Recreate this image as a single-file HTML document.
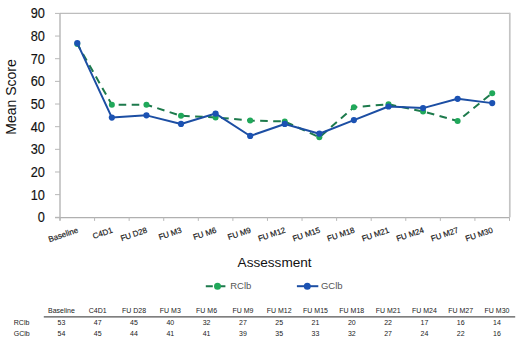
<!DOCTYPE html>
<html><head><meta charset="utf-8"><style>
html,body{margin:0;padding:0;background:#fff;}
svg{display:block;font-family:'Liberation Sans',sans-serif;}
</style></head><body>
<svg width="520" height="343" viewBox="0 0 520 343">
<rect x="0" y="0" width="520" height="343" fill="#fff"/>
<path d="M60.0 13.4H509.9" fill="none" stroke="#bdbdbd" stroke-width="1.2"/>
<path d="M509.8 12.8V217.3" fill="none" stroke="#c4c4c4" stroke-width="1.7"/>
<path d="M60.0 13.4V220.60000000000002M55.0 217.60000000000002H509.5" fill="none" stroke="#b0b0b0" stroke-width="1.3"/>
<line x1="55.0" y1="217.30" x2="60.0" y2="217.30" stroke="#b8b8b8" stroke-width="1"/>
<text transform="translate(44.9,222.20) scale(0.98,1.1)" text-anchor="end" font-size="13" fill="#111" stroke="#111" stroke-width="0.15">0</text>
<line x1="55.0" y1="194.64" x2="60.0" y2="194.64" stroke="#b8b8b8" stroke-width="1"/>
<text transform="translate(44.9,199.54) scale(0.98,1.1)" text-anchor="end" font-size="13" fill="#111" stroke="#111" stroke-width="0.15">10</text>
<line x1="55.0" y1="171.99" x2="60.0" y2="171.99" stroke="#b8b8b8" stroke-width="1"/>
<text transform="translate(44.9,176.89) scale(0.98,1.1)" text-anchor="end" font-size="13" fill="#111" stroke="#111" stroke-width="0.15">20</text>
<line x1="55.0" y1="149.33" x2="60.0" y2="149.33" stroke="#b8b8b8" stroke-width="1"/>
<text transform="translate(44.9,154.23) scale(0.98,1.1)" text-anchor="end" font-size="13" fill="#111" stroke="#111" stroke-width="0.15">30</text>
<line x1="55.0" y1="126.68" x2="60.0" y2="126.68" stroke="#b8b8b8" stroke-width="1"/>
<text transform="translate(44.9,131.58) scale(0.98,1.1)" text-anchor="end" font-size="13" fill="#111" stroke="#111" stroke-width="0.15">40</text>
<line x1="55.0" y1="104.02" x2="60.0" y2="104.02" stroke="#b8b8b8" stroke-width="1"/>
<text transform="translate(44.9,108.92) scale(0.98,1.1)" text-anchor="end" font-size="13" fill="#111" stroke="#111" stroke-width="0.15">50</text>
<line x1="55.0" y1="81.37" x2="60.0" y2="81.37" stroke="#b8b8b8" stroke-width="1"/>
<text transform="translate(44.9,86.27) scale(0.98,1.1)" text-anchor="end" font-size="13" fill="#111" stroke="#111" stroke-width="0.15">60</text>
<line x1="55.0" y1="58.71" x2="60.0" y2="58.71" stroke="#b8b8b8" stroke-width="1"/>
<text transform="translate(44.9,63.61) scale(0.98,1.1)" text-anchor="end" font-size="13" fill="#111" stroke="#111" stroke-width="0.15">70</text>
<line x1="55.0" y1="36.06" x2="60.0" y2="36.06" stroke="#b8b8b8" stroke-width="1"/>
<text transform="translate(44.9,40.96) scale(0.98,1.1)" text-anchor="end" font-size="13" fill="#111" stroke="#111" stroke-width="0.15">80</text>
<line x1="55.0" y1="13.40" x2="60.0" y2="13.40" stroke="#b8b8b8" stroke-width="1"/>
<text transform="translate(44.9,18.30) scale(0.98,1.1)" text-anchor="end" font-size="13" fill="#111" stroke="#111" stroke-width="0.15">90</text>
<line x1="60.00" y1="217.3" x2="60.00" y2="220.9" stroke="#b8b8b8" stroke-width="1"/>
<line x1="94.58" y1="217.3" x2="94.58" y2="220.9" stroke="#b8b8b8" stroke-width="1"/>
<line x1="129.15" y1="217.3" x2="129.15" y2="220.9" stroke="#b8b8b8" stroke-width="1"/>
<line x1="163.73" y1="217.3" x2="163.73" y2="220.9" stroke="#b8b8b8" stroke-width="1"/>
<line x1="198.31" y1="217.3" x2="198.31" y2="220.9" stroke="#b8b8b8" stroke-width="1"/>
<line x1="232.88" y1="217.3" x2="232.88" y2="220.9" stroke="#b8b8b8" stroke-width="1"/>
<line x1="267.46" y1="217.3" x2="267.46" y2="220.9" stroke="#b8b8b8" stroke-width="1"/>
<line x1="302.04" y1="217.3" x2="302.04" y2="220.9" stroke="#b8b8b8" stroke-width="1"/>
<line x1="336.62" y1="217.3" x2="336.62" y2="220.9" stroke="#b8b8b8" stroke-width="1"/>
<line x1="371.19" y1="217.3" x2="371.19" y2="220.9" stroke="#b8b8b8" stroke-width="1"/>
<line x1="405.77" y1="217.3" x2="405.77" y2="220.9" stroke="#b8b8b8" stroke-width="1"/>
<line x1="440.35" y1="217.3" x2="440.35" y2="220.9" stroke="#b8b8b8" stroke-width="1"/>
<line x1="474.92" y1="217.3" x2="474.92" y2="220.9" stroke="#b8b8b8" stroke-width="1"/>
<line x1="509.50" y1="217.3" x2="509.50" y2="220.9" stroke="#b8b8b8" stroke-width="1"/>
<text transform="translate(78.59,232.30) rotate(-19)" text-anchor="end" font-size="8.0" fill="#1a1a1a" stroke="#1a1a1a" stroke-width="0.18">Baseline</text>
<text transform="translate(113.17,232.30) rotate(-19)" text-anchor="end" font-size="8.0" fill="#1a1a1a" stroke="#1a1a1a" stroke-width="0.18">C4D1</text>
<text transform="translate(147.74,232.30) rotate(-19)" text-anchor="end" font-size="8.0" fill="#1a1a1a" stroke="#1a1a1a" stroke-width="0.18">FU D28</text>
<text transform="translate(182.32,232.30) rotate(-19)" text-anchor="end" font-size="8.0" fill="#1a1a1a" stroke="#1a1a1a" stroke-width="0.18">FU M3</text>
<text transform="translate(216.90,232.30) rotate(-19)" text-anchor="end" font-size="8.0" fill="#1a1a1a" stroke="#1a1a1a" stroke-width="0.18">FU M6</text>
<text transform="translate(251.47,232.30) rotate(-19)" text-anchor="end" font-size="8.0" fill="#1a1a1a" stroke="#1a1a1a" stroke-width="0.18">FU M9</text>
<text transform="translate(286.05,232.30) rotate(-19)" text-anchor="end" font-size="8.0" fill="#1a1a1a" stroke="#1a1a1a" stroke-width="0.18">FU M12</text>
<text transform="translate(320.63,232.30) rotate(-19)" text-anchor="end" font-size="8.0" fill="#1a1a1a" stroke="#1a1a1a" stroke-width="0.18">FU M15</text>
<text transform="translate(355.20,232.30) rotate(-19)" text-anchor="end" font-size="8.0" fill="#1a1a1a" stroke="#1a1a1a" stroke-width="0.18">FU M18</text>
<text transform="translate(389.78,232.30) rotate(-19)" text-anchor="end" font-size="8.0" fill="#1a1a1a" stroke="#1a1a1a" stroke-width="0.18">FU M21</text>
<text transform="translate(424.36,232.30) rotate(-19)" text-anchor="end" font-size="8.0" fill="#1a1a1a" stroke="#1a1a1a" stroke-width="0.18">FU M24</text>
<text transform="translate(458.93,232.30) rotate(-19)" text-anchor="end" font-size="8.0" fill="#1a1a1a" stroke="#1a1a1a" stroke-width="0.18">FU M27</text>
<text transform="translate(493.51,232.30) rotate(-19)" text-anchor="end" font-size="8.0" fill="#1a1a1a" stroke="#1a1a1a" stroke-width="0.18">FU M30</text>
<polyline points="77.29,43.99 111.87,104.70 146.44,104.70 181.02,115.80 215.60,117.39 250.17,120.56 284.75,121.47 319.33,137.33 353.90,107.19 388.48,104.25 423.06,111.50 457.63,121.01 492.21,93.15" fill="none" stroke="#1d7a4c" stroke-width="2" stroke-dasharray="7.6 5.44" stroke-dashoffset="1.6"/>
<circle cx="77.29" cy="43.99" r="3" fill="#20a85a"/>
<circle cx="111.87" cy="104.70" r="3" fill="#20a85a"/>
<circle cx="146.44" cy="104.70" r="3" fill="#20a85a"/>
<circle cx="181.02" cy="115.80" r="3" fill="#20a85a"/>
<circle cx="215.60" cy="117.39" r="3" fill="#20a85a"/>
<circle cx="250.17" cy="120.56" r="3" fill="#20a85a"/>
<circle cx="284.75" cy="121.47" r="3" fill="#20a85a"/>
<circle cx="319.33" cy="137.33" r="3" fill="#20a85a"/>
<circle cx="353.90" cy="107.19" r="3" fill="#20a85a"/>
<circle cx="388.48" cy="104.25" r="3" fill="#20a85a"/>
<circle cx="423.06" cy="111.50" r="3" fill="#20a85a"/>
<circle cx="457.63" cy="121.01" r="3" fill="#20a85a"/>
<circle cx="492.21" cy="93.15" r="3" fill="#20a85a"/>
<polyline points="77.29,43.08 111.87,117.62 146.44,115.35 181.02,123.96 215.60,113.54 250.17,135.97 284.75,123.96 319.33,133.70 353.90,120.11 388.48,106.51 423.06,108.10 457.63,98.81 492.21,103.12" fill="none" stroke="#1c4ea3" stroke-width="2.0" stroke-linejoin="round"/>
<circle cx="77.29" cy="43.08" r="3.1" fill="#1b52b3"/>
<circle cx="111.87" cy="117.62" r="3.1" fill="#1b52b3"/>
<circle cx="146.44" cy="115.35" r="3.1" fill="#1b52b3"/>
<circle cx="181.02" cy="123.96" r="3.1" fill="#1b52b3"/>
<circle cx="215.60" cy="113.54" r="3.1" fill="#1b52b3"/>
<circle cx="250.17" cy="135.97" r="3.1" fill="#1b52b3"/>
<circle cx="284.75" cy="123.96" r="3.1" fill="#1b52b3"/>
<circle cx="319.33" cy="133.70" r="3.1" fill="#1b52b3"/>
<circle cx="353.90" cy="120.11" r="3.1" fill="#1b52b3"/>
<circle cx="388.48" cy="106.51" r="3.1" fill="#1b52b3"/>
<circle cx="423.06" cy="108.10" r="3.1" fill="#1b52b3"/>
<circle cx="457.63" cy="98.81" r="3.1" fill="#1b52b3"/>
<circle cx="492.21" cy="103.12" r="3.1" fill="#1b52b3"/>
<text transform="translate(15.8,97.0) rotate(-90)" text-anchor="middle" font-size="14" fill="#111">Mean Score</text>
<text x="274.6" y="267.4" text-anchor="middle" font-size="13.6" fill="#111">Assessment</text>
<line x1="205.8" y1="286.2" x2="225.4" y2="286.2" stroke="#1d7a4c" stroke-width="2" stroke-dasharray="7 5.6"/>
<circle cx="217.5" cy="286.2" r="3.5" fill="#20a85a"/>
<text x="230.2" y="288.6" font-size="9.5" fill="#555">RClb</text>
<line x1="296.9" y1="286.2" x2="318.3" y2="286.2" stroke="#1c4ea3" stroke-width="2"/>
<circle cx="307.3" cy="286.2" r="3.5" fill="#1b52b3"/>
<text x="320.9" y="288.6" font-size="9.5" fill="#555">GClb</text>
<text x="61.40" y="312.7" text-anchor="middle" font-size="7" fill="#222">Baseline</text>
<text x="61.40" y="325.1" text-anchor="middle" font-size="7" fill="#222">53</text>
<text x="61.40" y="335.6" text-anchor="middle" font-size="7" fill="#222">54</text>
<text x="97.70" y="312.7" text-anchor="middle" font-size="7" fill="#222">C4D1</text>
<text x="97.70" y="325.1" text-anchor="middle" font-size="7" fill="#222">47</text>
<text x="97.70" y="335.6" text-anchor="middle" font-size="7" fill="#222">45</text>
<text x="134.00" y="312.7" text-anchor="middle" font-size="7" fill="#222">FU D28</text>
<text x="134.00" y="325.1" text-anchor="middle" font-size="7" fill="#222">45</text>
<text x="134.00" y="335.6" text-anchor="middle" font-size="7" fill="#222">44</text>
<text x="170.30" y="312.7" text-anchor="middle" font-size="7" fill="#222">FU M3</text>
<text x="170.30" y="325.1" text-anchor="middle" font-size="7" fill="#222">40</text>
<text x="170.30" y="335.6" text-anchor="middle" font-size="7" fill="#222">41</text>
<text x="206.60" y="312.7" text-anchor="middle" font-size="7" fill="#222">FU M6</text>
<text x="206.60" y="325.1" text-anchor="middle" font-size="7" fill="#222">32</text>
<text x="206.60" y="335.6" text-anchor="middle" font-size="7" fill="#222">41</text>
<text x="242.90" y="312.7" text-anchor="middle" font-size="7" fill="#222">FU M9</text>
<text x="242.90" y="325.1" text-anchor="middle" font-size="7" fill="#222">27</text>
<text x="242.90" y="335.6" text-anchor="middle" font-size="7" fill="#222">39</text>
<text x="279.20" y="312.7" text-anchor="middle" font-size="7" fill="#222">FU M12</text>
<text x="279.20" y="325.1" text-anchor="middle" font-size="7" fill="#222">25</text>
<text x="279.20" y="335.6" text-anchor="middle" font-size="7" fill="#222">35</text>
<text x="315.50" y="312.7" text-anchor="middle" font-size="7" fill="#222">FU M15</text>
<text x="315.50" y="325.1" text-anchor="middle" font-size="7" fill="#222">21</text>
<text x="315.50" y="335.6" text-anchor="middle" font-size="7" fill="#222">33</text>
<text x="351.80" y="312.7" text-anchor="middle" font-size="7" fill="#222">FU M18</text>
<text x="351.80" y="325.1" text-anchor="middle" font-size="7" fill="#222">20</text>
<text x="351.80" y="335.6" text-anchor="middle" font-size="7" fill="#222">32</text>
<text x="388.10" y="312.7" text-anchor="middle" font-size="7" fill="#222">FU M21</text>
<text x="388.10" y="325.1" text-anchor="middle" font-size="7" fill="#222">22</text>
<text x="388.10" y="335.6" text-anchor="middle" font-size="7" fill="#222">27</text>
<text x="424.40" y="312.7" text-anchor="middle" font-size="7" fill="#222">FU M24</text>
<text x="424.40" y="325.1" text-anchor="middle" font-size="7" fill="#222">17</text>
<text x="424.40" y="335.6" text-anchor="middle" font-size="7" fill="#222">24</text>
<text x="460.70" y="312.7" text-anchor="middle" font-size="7" fill="#222">FU M27</text>
<text x="460.70" y="325.1" text-anchor="middle" font-size="7" fill="#222">16</text>
<text x="460.70" y="335.6" text-anchor="middle" font-size="7" fill="#222">22</text>
<text x="497.00" y="312.7" text-anchor="middle" font-size="7" fill="#222">FU M30</text>
<text x="497.00" y="325.1" text-anchor="middle" font-size="7" fill="#222">14</text>
<text x="497.00" y="335.6" text-anchor="middle" font-size="7" fill="#222">16</text>
<line x1="43.8" y1="316.9" x2="515.2" y2="316.9" stroke="#555" stroke-width="1.3"/>
<text x="13.8" y="325.1" font-size="7" fill="#222">RClb</text>
<text x="13.8" y="335.6" font-size="7" fill="#222">GClb</text>
</svg>
</body></html>
